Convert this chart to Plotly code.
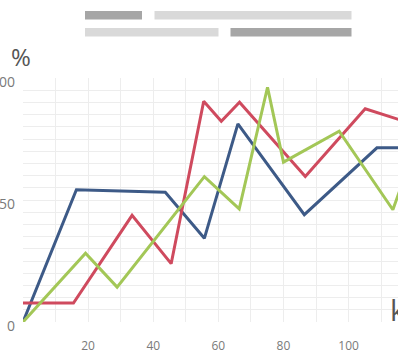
import plotly.graph_objects as go

# Series data (x in distance units, y in percent)
blue_x = [0, 16.4, 43.7, 55.7, 66.0, 86.4, 108.7, 120]
blue_y = [0, 54.2, 53.2, 34.3, 81.2, 44.0, 71.4, 71.4]

red_x = [0, 15.5, 33.5, 45.5, 55.5, 60.9, 66.5, 86.7, 105.1, 120]
red_y = [7.8, 7.8, 43.7, 23.9, 90.5, 82.3, 90.1, 59.6, 87.4, 81.0]

green_x = [0, 19.2, 28.9, 55.7, 66.4, 75.1, 80.0, 97.1, 113.6, 120]
green_y = [0, 28.2, 14.3, 59.6, 46.4, 96.2, 65.5, 78.2, 46.0, 70.0]

x_ticks = [20, 40, 60, 80, 100]
y_ticks = [0, 50, 100]

W, H = 398, 360
ML, MR, MT, MB = 23, 0, 78, 38
PW, PH = W - ML - MR, H - MT - MB


def px(x):
    return (x - ML) / PW


def py(y):
    return (H - MB - y) / PH


fig = go.Figure()
for xs, ys, col in [
    (blue_x, blue_y, "#3d5a87"),
    (red_x, red_y, "#cf4a5e"),
    (green_x, green_y, "#a3c757"),
]:
    fig.add_trace(go.Scatter(x=xs, y=ys, mode="lines",
                             line=dict(color=col, width=3), showlegend=False))

grid = "#ededed"
fig.update_xaxes(range=[0, PW / 3.256], tickvals=x_ticks, showgrid=True,
                 gridcolor=grid, gridwidth=1, zeroline=False, showline=False,
                 automargin=False,
                 minor=dict(tick0=0, dtick=10, showgrid=True, gridcolor=grid),
                 tickfont=dict(size=12, color="#7a7a7a"), ticklabelstandoff=15)
fig.update_yaxes(range=[0, 100], tickvals=y_ticks, showgrid=True,
                 gridcolor=grid, gridwidth=1, zeroline=False, showline=False,
                 automargin=False,
                 minor=dict(tick0=0, dtick=5, showgrid=True, gridcolor=grid),
                 tickfont=dict(size=14, color="#7a7a7a"), ticklabelshift=4,
                 ticklabelstandoff=7)

# Legend placeholder bars
bars = [
    (85, 142, 11, 19.5, "#a6a6a6"),
    (154.5, 351.5, 11, 19.5, "#d9d9d9"),
    (85, 218.5, 28, 36.5, "#d9d9d9"),
    (230.5, 351.5, 28, 36.5, "#a6a6a6"),
]
for x0, x1, y0, y1, c in bars:
    fig.add_shape(type="rect", xref="paper", yref="paper",
                  x0=px(x0), x1=px(x1), y0=py(y1), y1=py(y0),
                  fillcolor=c, line=dict(width=0))

fig.add_annotation(text="%", xref="paper", yref="paper", x=px(21), y=py(56),
                   showarrow=False, xanchor="center", yanchor="middle",
                   font=dict(size=24, color="#555555"))
fig.add_annotation(text="km", xref="paper", yref="paper", x=px(388), y=py(309),
                   showarrow=False, xanchor="left", yanchor="middle",
                   font=dict(size=29, color="#555555"))

fig.update_layout(width=W, height=H, margin=dict(l=ML, r=MR, t=MT, b=MB),
                  plot_bgcolor="white", paper_bgcolor="white",
                  font=dict(family="Open Sans"))
fig.write_html("out.html")
